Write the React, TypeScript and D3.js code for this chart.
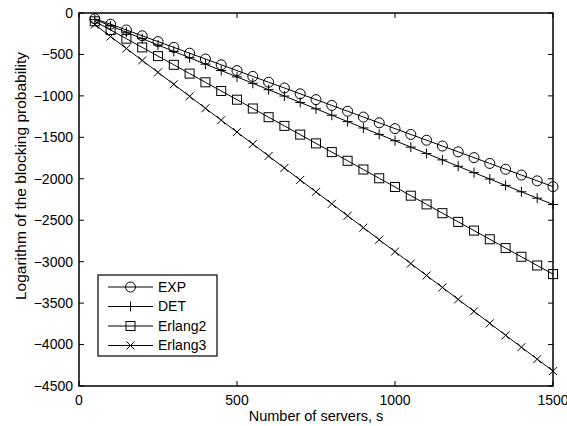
import React, { useEffect, useRef } from 'react';
import * as d3 from 'd3';

const servers = [50, 100, 150, 200, 250, 300, 350, 400, 450, 500, 550, 600, 650, 700, 750, 800, 850, 900, 950, 1000, 1050, 1100, 1150, 1200, 1250, 1300, 1350, 1400, 1450, 1500];

const expVals = [-70, -135, -205, -275, -345, -415, -485, -555, -625, -695, -765, -835, -905, -975, -1045, -1115, -1185, -1255, -1325, -1395, -1465, -1535, -1605, -1675, -1745, -1815, -1885, -1955, -2025, -2095];
const detVals = [-80, -155, -232, -309, -386, -463, -540, -617, -694, -771, -848, -925, -1002, -1079, -1156, -1233, -1310, -1387, -1464, -1541, -1618, -1695, -1772, -1849, -1926, -2003, -2080, -2157, -2234, -2310];
const erlang2Vals = [-100, -205, -310, -415, -520, -625, -731, -836, -941, -1046, -1152, -1257, -1362, -1467, -1573, -1678, -1783, -1888, -1994, -2099, -2204, -2309, -2415, -2520, -2625, -2730, -2836, -2941, -3046, -3150];
const erlang3Vals = [-140, -284, -428, -572, -716, -860, -1005, -1149, -1293, -1437, -1581, -1725, -1870, -2014, -2158, -2302, -2446, -2590, -2735, -2879, -3023, -3167, -3311, -3455, -3599, -3744, -3888, -4032, -4176, -4320];

const seriesNames = ['EXP', 'DET', 'Erlang2', 'Erlang3'];
const seriesMarkers = ['circle', 'plus', 'square', 'cross'];
const xTicks = [0, 500, 1000, 1500];
const yTicks = [0, -500, -1000, -1500, -2000, -2500, -3000, -3500, -4000, -4500];

function App() {
  const ref = useRef<SVGSVGElement | null>(null);

  useEffect(() => {
    const W = 567, H = 426;
    const margin = { top: 13, right: 14, bottom: 40, left: 79 };
    const width = W - margin.left - margin.right;
    const height = H - margin.top - margin.bottom;
    const font = 'Liberation Sans, Arial, sans-serif';

    const root = d3.select(ref.current);
    root.selectAll('*').remove();
    const svg = root.append('g').attr('transform', `translate(${margin.left},${margin.top})`);

    const x = d3.scaleLinear().domain([0, 1500]).range([0, width]);
    const y = d3.scaleLinear().domain([-4500, 0]).range([height, 0]);

    // frame
    svg.append('rect').attr('width', width).attr('height', height)
      .attr('fill', 'white').attr('stroke', 'black').attr('stroke-width', 1.5);

    const tl = 5;
    // x ticks (bottom + top, inward)
    xTicks.forEach((t) => {
      svg.append('line').attr('x1', x(t)).attr('x2', x(t)).attr('y1', height).attr('y2', height - tl).attr('stroke', 'black');
      svg.append('line').attr('x1', x(t)).attr('x2', x(t)).attr('y1', 0).attr('y2', tl).attr('stroke', 'black');
      svg.append('text').attr('x', x(t)).attr('y', height + 19)
        .attr('text-anchor', 'middle').style('font-family', font).style('font-size', '14px').text(t);
    });
    // y ticks (left + right, inward)
    yTicks.forEach((t) => {
      svg.append('line').attr('y1', y(t)).attr('y2', y(t)).attr('x1', 0).attr('x2', tl).attr('stroke', 'black');
      svg.append('line').attr('y1', y(t)).attr('y2', y(t)).attr('x1', width).attr('x2', width - tl).attr('stroke', 'black');
      svg.append('text').attr('x', -6).attr('y', y(t)).attr('dy', '0.35em')
        .attr('text-anchor', 'end').style('font-family', font).style('font-size', '14px')
        .text(t === 0 ? '0' : '\u2212' + Math.abs(t));
    });

    const drawMarker = (g: any, kind: string, cx: number, cy: number) => {
      if (kind === 'circle') {
        g.append('circle').attr('cx', cx).attr('cy', cy).attr('r', 5).attr('fill', 'none').attr('stroke', 'black');
      } else if (kind === 'square') {
        g.append('rect').attr('x', cx - 4.5).attr('y', cy - 4.5).attr('width', 9).attr('height', 9).attr('fill', 'none').attr('stroke', 'black');
      } else if (kind === 'plus') {
        g.append('path').attr('d', `M${cx - 5},${cy}H${cx + 5}M${cx},${cy - 5}V${cy + 5}`).attr('stroke', 'black');
      } else {
        g.append('path').attr('d', `M${cx - 4},${cy - 4}L${cx + 4},${cy + 4}M${cx - 4},${cy + 4}L${cx + 4},${cy - 4}`).attr('stroke', 'black');
      }
    };

    const allSeries = [expVals, detVals, erlang2Vals, erlang3Vals];
    const line = d3.line<number>().x((_, i) => x(servers[i])).y((d) => y(d));

    allSeries.forEach((vals, si) => {
      svg.append('path').datum(vals).attr('fill', 'none').attr('stroke', 'black').attr('stroke-width', 1).attr('d', line);
      const g = svg.append('g');
      vals.forEach((v, i) => drawMarker(g, seriesMarkers[si], x(servers[i]), y(v)));
    });

    // legend
    const lg = svg.append('g').attr('transform', `translate(${98 - margin.left},${275 - margin.top})`);
    lg.append('rect').attr('width', 119).attr('height', 81).attr('fill', 'white').attr('stroke', 'black').attr('stroke-width', 1.2);
    seriesNames.forEach((name, i) => {
      const ly = 12 + i * 19.5;
      lg.append('line').attr('x1', 10).attr('x2', 55).attr('y1', ly).attr('y2', ly).attr('stroke', 'black');
      drawMarker(lg, seriesMarkers[i], 32.5, ly);
      lg.append('text').attr('x', 60).attr('y', ly).attr('dy', '0.35em')
        .style('font-family', font).style('font-size', '14px').text(name);
    });

    // axis labels
    svg.append('text').attr('x', width / 2).attr('y', height + 35)
      .attr('text-anchor', 'middle').style('font-family', font).style('font-size', '14.5px')
      .text('Number of servers, s');
    svg.append('text').attr('transform', `translate(${26 - margin.left},${176 - margin.top}) rotate(-90)`)
      .attr('text-anchor', 'middle').style('font-family', font).style('font-size', '15.5px')
      .text('Logarithm of the blocking probability');
  }, []);

  return (
    <svg ref={ref} width={567} height={426} style={{ position: 'absolute', left: 0, top: 0, background: 'white' }} />
  );
}

export default App;
